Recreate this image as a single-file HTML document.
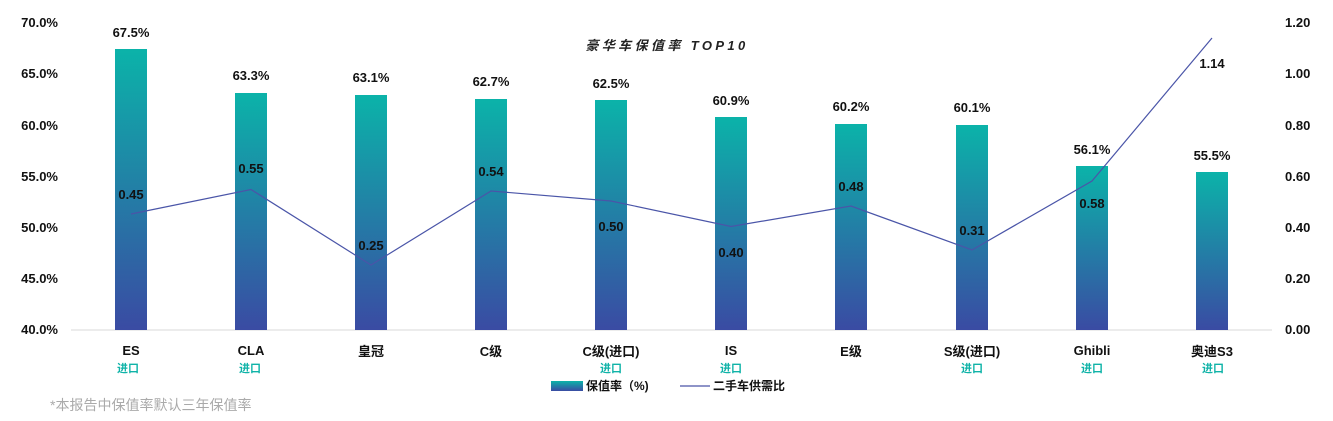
<!DOCTYPE html>
<html><head><meta charset="utf-8"><style>
html,body{margin:0;padding:0;background:#fff;}
svg{display:block;font-family:"Liberation Sans","Noto Sans CJK SC",sans-serif;}
</style></head><body>
<svg width="1333" height="421" viewBox="0 0 1333 421" xmlns="http://www.w3.org/2000/svg">
<defs>
<linearGradient id="g" x1="0" y1="0" x2="0" y2="1">
<stop offset="0" stop-color="#0bb3a9"/><stop offset="1" stop-color="#3a4ba3"/>
</linearGradient>
<linearGradient id="gl" x1="0" y1="0" x2="0" y2="1">
<stop offset="0" stop-color="#0bb3a9"/><stop offset="1" stop-color="#3a4ba3"/>
</linearGradient>
</defs>
<line x1="71" y1="330" x2="1272" y2="330" stroke="#d9d9d9" stroke-width="1"/>
<g font-size="13" font-weight="bold" fill="#111" text-anchor="end">
<text x="58" y="27">70.0%</text><text x="58" y="78">65.0%</text><text x="58" y="130">60.0%</text>
<text x="58" y="181">55.0%</text><text x="58" y="232">50.0%</text><text x="58" y="283">45.0%</text>
<text x="58" y="334">40.0%</text>
</g>
<g font-size="13" font-weight="bold" fill="#111" text-anchor="start">
<text x="1285" y="27">1.20</text><text x="1285" y="78">1.00</text><text x="1285" y="130">0.80</text>
<text x="1285" y="181">0.60</text><text x="1285" y="232">0.40</text><text x="1285" y="283">0.20</text>
<text x="1285" y="334">0.00</text>
</g>
<text x="667" y="50" font-size="13" font-weight="bold" font-style="italic" fill="#222" text-anchor="middle" letter-spacing="3.4">豪华车保值率 TOP10</text>
<g fill="url(#g)">
<rect x="115" y="49" width="32" height="281"/>
<rect x="235" y="93" width="32" height="237"/>
<rect x="355" y="95" width="32" height="235"/>
<rect x="475" y="99" width="32" height="231"/>
<rect x="595" y="100" width="32" height="230"/>
<rect x="715" y="117" width="32" height="213"/>
<rect x="835" y="124" width="32" height="206"/>
<rect x="956" y="125" width="32" height="205"/>
<rect x="1076" y="166" width="32" height="164"/>
<rect x="1196" y="172" width="32" height="158"/>
</g>
<g font-size="13" font-weight="bold" fill="#111" text-anchor="middle">
<text x="131" y="37">67.5%</text><text x="251" y="80">63.3%</text><text x="371" y="82">63.1%</text>
<text x="491" y="86">62.7%</text><text x="611" y="88">62.5%</text><text x="731" y="105">60.9%</text>
<text x="851" y="111">60.2%</text><text x="972" y="112">60.1%</text><text x="1092" y="154">56.1%</text>
<text x="1212" y="160">55.5%</text>
</g>
<polyline fill="none" stroke="#4a55a8" stroke-width="1.2" points="131,214 251,189.5 371,265 491,191 611,201 731,226.5 851,206 972,250 1092,181 1212,38"/>
<g font-size="13" font-weight="bold" fill="#111" text-anchor="middle">
<text x="131" y="199">0.45</text><text x="251" y="173">0.55</text><text x="371" y="250">0.25</text>
<text x="491" y="176">0.54</text><text x="611" y="231">0.50</text><text x="731" y="257">0.40</text>
<text x="851" y="191">0.48</text><text x="972" y="235">0.31</text><text x="1092" y="208">0.58</text>
<text x="1212" y="68">1.14</text>
</g>
<g font-size="13" font-weight="bold" fill="#111" text-anchor="middle">
<text x="131" y="355">ES</text><text x="251" y="355">CLA</text><text x="371" y="356">皇冠</text>
<text x="491" y="356">C级</text><text x="611" y="356">C级(进口)</text><text x="731" y="355">IS</text>
<text x="851" y="356">E级</text><text x="972" y="356">S级(进口)</text><text x="1092" y="355">Ghibli</text>
<text x="1212" y="356">奥迪S3</text>
</g>
<g font-size="11" font-weight="bold" fill="#10b3a8" text-anchor="middle">
<text x="128" y="372">进口</text><text x="250" y="372">进口</text><text x="611" y="372">进口</text>
<text x="731" y="372">进口</text><text x="972" y="372">进口</text><text x="1092" y="372">进口</text>
<text x="1213" y="372">进口</text>
</g>
<rect x="551" y="381" width="32" height="10" fill="url(#gl)"/>
<text x="586" y="390" font-size="12" font-weight="bold" fill="#111">保值率（%)</text>
<line x1="680" y1="386" x2="710" y2="386" stroke="#4a55a8" stroke-width="1.2"/>
<text x="713" y="390" font-size="12" font-weight="bold" fill="#111">二手车供需比</text>
<text x="50" y="410" font-size="14" fill="#aaa">*本报告中保值率默认三年保值率</text>
</svg>
</body></html>
